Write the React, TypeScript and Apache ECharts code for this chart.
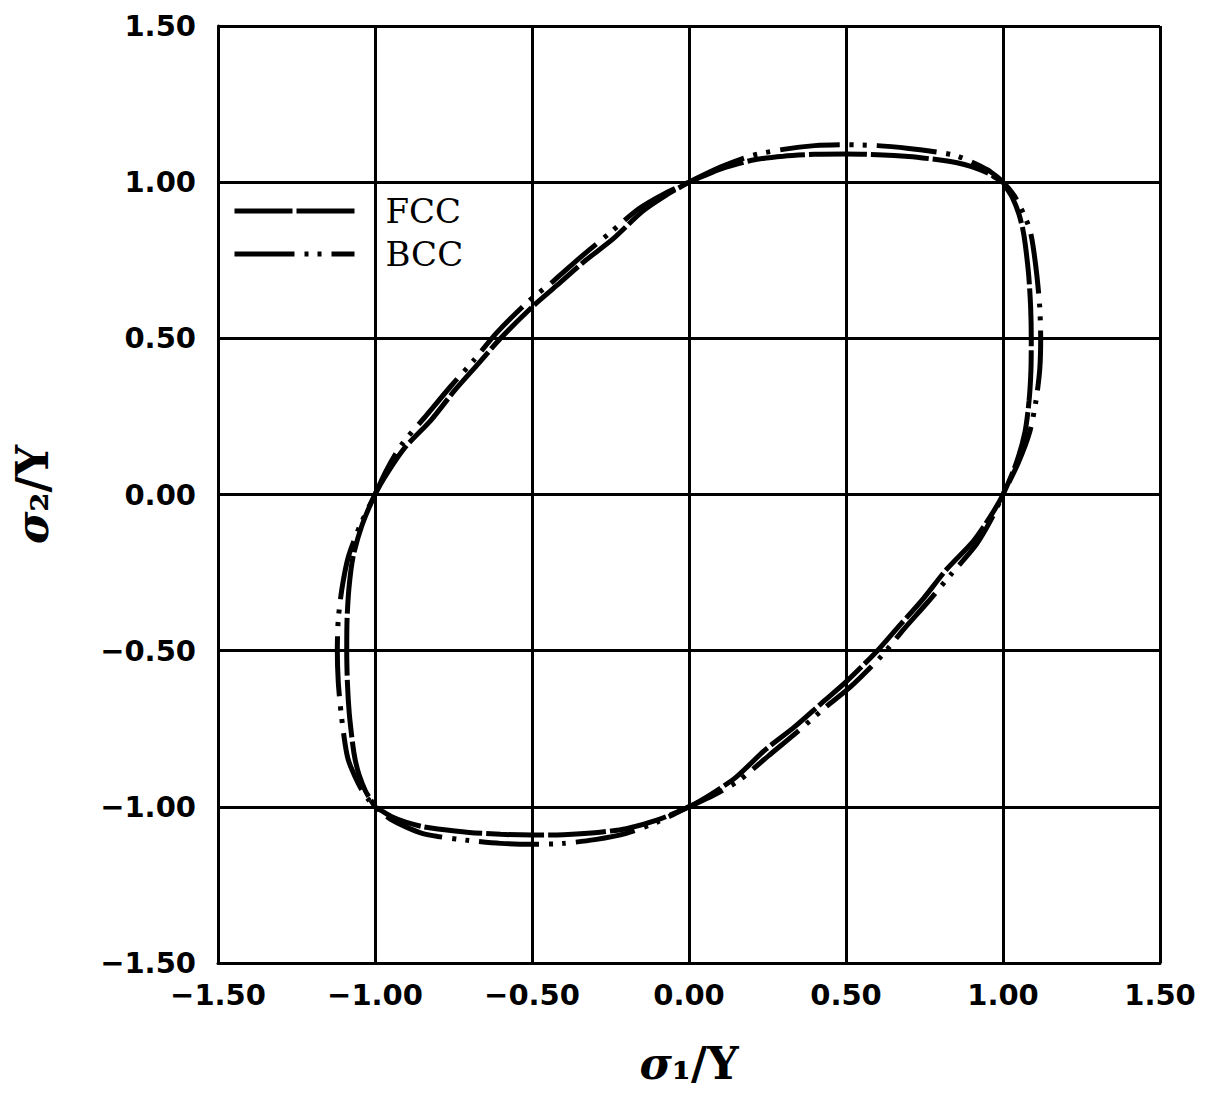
import React, { useEffect, useRef } from "react";
import * as echarts from "echarts";

// Axis ticks
const axisTicks = [-1.5, -1.0, -0.5, 0.0, 0.5, 1.0, 1.5];

// FCC yield locus (sigma1/Y, sigma2/Y)
const fccSigma1 = [
  0, 0.1, 0.2, 0.3, 0.4, 0.5, 0.6, 0.7, 0.8, 0.85, 0.9, 0.95, 0.98, 1,
  1.012, 1.03, 1.05, 1.063, 1.071, 1.082, 1.088, 1.09, 1.089, 1.083, 1.07, 1.042, 1,
  0.96, 0.905, 0.82, 0.745, 0.67, 0.6, 0.5, 0.42, 0.335, 0.24, 0.15, 0.07, 0,
  -0.1, -0.2, -0.3, -0.4, -0.5, -0.6, -0.7, -0.8, -0.85, -0.9, -0.95, -0.98, -1,
  -1.012, -1.03, -1.05, -1.063, -1.071, -1.082, -1.088, -1.09, -1.089, -1.083, -1.07, -1.042, -1,
  -0.96, -0.905, -0.82, -0.745, -0.67, -0.6, -0.5, -0.42, -0.335, -0.24, -0.15, -0.07, 0,
];
const fccSigma2 = [
  1, 1.042, 1.07, 1.083, 1.089, 1.09, 1.088, 1.082, 1.071, 1.063, 1.05, 1.03, 1.012, 1,
  0.98, 0.95, 0.9, 0.85, 0.8, 0.7, 0.6, 0.5, 0.4, 0.3, 0.2, 0.1, 0,
  -0.07, -0.15, -0.24, -0.335, -0.42, -0.5, -0.6, -0.67, -0.745, -0.82, -0.905, -0.96, -1,
  -1.042, -1.07, -1.083, -1.089, -1.09, -1.088, -1.082, -1.071, -1.063, -1.05, -1.03, -1.012, -1,
  -0.98, -0.95, -0.9, -0.85, -0.8, -0.7, -0.6, -0.5, -0.4, -0.3, -0.2, -0.1, 0,
  0.07, 0.15, 0.24, 0.335, 0.42, 0.5, 0.6, 0.67, 0.745, 0.82, 0.905, 0.96, 1,
];

// BCC yield locus (sigma1/Y, sigma2/Y)
const bccSigma1 = [
  0, 0.1, 0.2, 0.3, 0.4, 0.5, 0.6, 0.7, 0.8, 0.85, 0.9, 0.95, 0.98, 1,
  1.018, 1.04, 1.065, 1.085, 1.095, 1.108, 1.117, 1.12, 1.117, 1.105, 1.085, 1.048, 1,
  0.965, 0.915, 0.835, 0.76, 0.685, 0.615, 0.515, 0.43, 0.345, 0.255, 0.16, 0.075, 0,
  -0.1, -0.2, -0.3, -0.4, -0.5, -0.6, -0.7, -0.8, -0.85, -0.9, -0.95, -0.98, -1,
  -1.018, -1.04, -1.065, -1.085, -1.095, -1.108, -1.117, -1.12, -1.117, -1.105, -1.085, -1.048, -1,
  -0.965, -0.915, -0.835, -0.76, -0.685, -0.615, -0.515, -0.43, -0.345, -0.255, -0.16, -0.075, 0,
];
const bccSigma2 = [
  1, 1.048, 1.085, 1.105, 1.117, 1.12, 1.117, 1.108, 1.095, 1.085, 1.065, 1.04, 1.018, 1,
  0.98, 0.95, 0.9, 0.85, 0.8, 0.7, 0.6, 0.5, 0.4, 0.3, 0.2, 0.1, 0,
  -0.075, -0.16, -0.255, -0.345, -0.43, -0.515, -0.615, -0.685, -0.76, -0.835, -0.915, -0.965, -1,
  -1.048, -1.085, -1.105, -1.117, -1.12, -1.117, -1.108, -1.095, -1.085, -1.065, -1.04, -1.018, -1,
  -0.98, -0.95, -0.9, -0.85, -0.8, -0.7, -0.6, -0.5, -0.4, -0.3, -0.2, -0.1, 0,
  0.075, 0.16, 0.255, 0.345, 0.43, 0.515, 0.615, 0.685, 0.76, 0.835, 0.915, 0.965, 1,
];

const seriesNames = ["FCC", "BCC"];

const zip = (a: number[], b: number[]) => a.map((v, i) => [v, b[i]]);
const fmt = (v: number) => (v < 0 ? "\u2212" + Math.abs(v).toFixed(2) : v.toFixed(2));

const fccDash = [58, 4];
const bccDash = [60, 10, 4, 9, 4, 10];

export default function App() {
  const ref = useRef<HTMLDivElement>(null);
  useEffect(() => {
    if (!ref.current) return;
    const chart = echarts.init(ref.current, null, { renderer: "svg" });
    const tickFont = {
      color: "#000",
      fontFamily: "DejaVu Sans",
      fontWeight: "bold" as const,
      fontSize: 29,
    };
    const nameRich = {
      i: { fontFamily: "DejaVu Serif", fontStyle: "italic" as const, fontWeight: "bold" as const, fontSize: 44, color: "#000" },
      n: { fontFamily: "DejaVu Serif", fontWeight: "bold" as const, fontSize: 44, color: "#000" },
    };
    const axisCommon = {
      type: "value" as const,
      min: axisTicks[0],
      max: axisTicks[axisTicks.length - 1],
      interval: 0.5,
      axisLine: { show: true, onZero: false, lineStyle: { color: "#000", width: 3 } },
      axisTick: { show: false },
      splitLine: { show: true, lineStyle: { color: "#000", width: 3 } },
      nameLocation: "middle" as const,
    };
    chart.setOption({
      animation: false,
      backgroundColor: "#fff",
      grid: { left: 218, right: 58, top: 26, bottom: 130, containLabel: false },
      xAxis: {
        ...axisCommon,
        axisLabel: { ...tickFont, margin: 17, formatter: fmt },
        name: "{i|σ}{n|₁/Y}",
        nameGap: 78,
        nameTextStyle: { rich: nameRich },
      },
      yAxis: {
        ...axisCommon,
        axisLabel: { ...tickFont, margin: 22, formatter: fmt },
        name: "{i|σ}{n|₂/Y}",
        nameGap: 164,
        nameTextStyle: { rich: nameRich },
      },
      legend: {
        show: true,
        orient: "vertical",
        left: 232,
        top: 194,
        itemWidth: 120,
        itemHeight: 30,
        itemGap: 9,
        padding: 0,
        itemStyle: { opacity: 0 },
        textStyle: {
          fontFamily: "DejaVu Serif",
          fontSize: 34,
          color: "#000",
          padding: [0, 0, 0, 26],
        },
        data: [
          { name: seriesNames[0], itemStyle: { opacity: 0 }, lineStyle: { color: "#000", width: 5, type: fccDash } },
          { name: seriesNames[1], itemStyle: { opacity: 0 }, lineStyle: { color: "#000", width: 5, type: bccDash } },
        ],
      },
      series: [
        {
          name: seriesNames[0],
          type: "line",
          data: zip(fccSigma1, fccSigma2),
          showSymbol: false,
          symbol: "none",
          smooth: 0.25,
          color: "#000",
          lineStyle: { color: "#000", width: 5, type: fccDash },
        },
        {
          name: seriesNames[1],
          type: "line",
          data: zip(bccSigma1, bccSigma2),
          showSymbol: false,
          symbol: "none",
          smooth: 0.25,
          color: "#000",
          lineStyle: { color: "#000", width: 5, type: bccDash },
        },
      ],
    });
    return () => chart.dispose();
  }, []);
  return (
    <div
      ref={ref}
      style={{ position: "absolute", left: 0, top: 0, width: 1218, height: 1093 }}
    />
  );
}
